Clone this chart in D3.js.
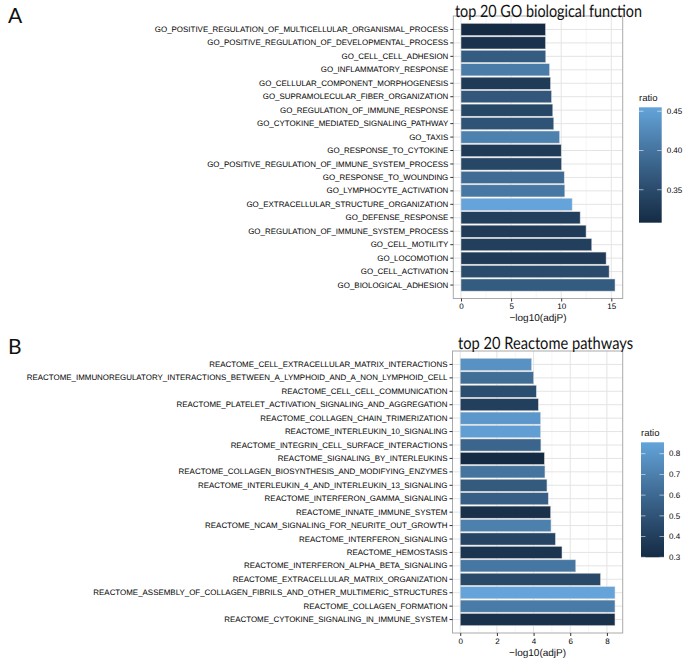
<!DOCTYPE html>
<html><head><meta charset="utf-8">
<script src="https://cdn.jsdelivr.net/npm/d3@7"></script>
<style>body{margin:0;background:#fff}svg{display:block}text{text-rendering:geometricPrecision}</style>
</head><body>
<script>
const goTerms = ["GO_POSITIVE_REGULATION_OF_MULTICELLULAR_ORGANISMAL_PROCESS","GO_POSITIVE_REGULATION_OF_DEVELOPMENTAL_PROCESS","GO_CELL_CELL_ADHESION","GO_INFLAMMATORY_RESPONSE","GO_CELLULAR_COMPONENT_MORPHOGENESIS","GO_SUPRAMOLECULAR_FIBER_ORGANIZATION","GO_REGULATION_OF_IMMUNE_RESPONSE","GO_CYTOKINE_MEDIATED_SIGNALING_PATHWAY","GO_TAXIS","GO_RESPONSE_TO_CYTOKINE","GO_POSITIVE_REGULATION_OF_IMMUNE_SYSTEM_PROCESS","GO_RESPONSE_TO_WOUNDING","GO_LYMPHOCYTE_ACTIVATION","GO_EXTRACELLULAR_STRUCTURE_ORGANIZATION","GO_DEFENSE_RESPONSE","GO_REGULATION_OF_IMMUNE_SYSTEM_PROCESS","GO_CELL_MOTILITY","GO_LOCOMOTION","GO_CELL_ACTIVATION","GO_BIOLOGICAL_ADHESION"];
const goValues = [8.43,8.43,8.46,8.83,8.93,9.03,9.16,9.26,9.83,10.0,10.03,10.3,10.36,11.09,11.89,12.48,13.05,14.48,14.78,15.37];
const goRatios = [0.308,0.318,0.37,0.41,0.33,0.365,0.345,0.36,0.415,0.33,0.345,0.39,0.405,0.455,0.335,0.33,0.335,0.33,0.35,0.37];
const goTicks = [0,5,10,15];
const goLegendTicks = [0.35,0.40,0.45];

const reTerms = ["REACTOME_CELL_EXTRACELLULAR_MATRIX_INTERACTIONS","REACTOME_IMMUNOREGULATORY_INTERACTIONS_BETWEEN_A_LYMPHOID_AND_A_NON_LYMPHOID_CELL","REACTOME_CELL_CELL_COMMUNICATION","REACTOME_PLATELET_ACTIVATION_SIGNALING_AND_AGGREGATION","REACTOME_COLLAGEN_CHAIN_TRIMERIZATION","REACTOME_INTERLEUKIN_10_SIGNALING","REACTOME_INTEGRIN_CELL_SURFACE_INTERACTIONS","REACTOME_SIGNALING_BY_INTERLEUKINS","REACTOME_COLLAGEN_BIOSYNTHESIS_AND_MODIFYING_ENZYMES","REACTOME_INTERLEUKIN_4_AND_INTERLEUKIN_13_SIGNALING","REACTOME_INTERFERON_GAMMA_SIGNALING","REACTOME_INNATE_IMMUNE_SYSTEM","REACTOME_NCAM_SIGNALING_FOR_NEURITE_OUT_GROWTH","REACTOME_INTERFERON_SIGNALING","REACTOME_HEMOSTASIS","REACTOME_INTERFERON_ALPHA_BETA_SIGNALING","REACTOME_EXTRACELLULAR_MATRIX_ORGANIZATION","REACTOME_ASSEMBLY_OF_COLLAGEN_FIBRILS_AND_OTHER_MULTIMERIC_STRUCTURES","REACTOME_COLLAGEN_FORMATION","REACTOME_CYTOKINE_SIGNALING_IN_IMMUNE_SYSTEM"];
const reValues = [3.89,4.0,4.15,4.26,4.38,4.38,4.40,4.59,4.62,4.73,4.80,4.93,4.95,5.19,5.55,6.30,7.65,8.44,8.44,8.44];
const reRatios = [0.78,0.62,0.47,0.40,0.80,0.83,0.58,0.30,0.65,0.53,0.55,0.33,0.70,0.43,0.35,0.66,0.45,0.855,0.68,0.33];
const reTicks = [0,2,4,6,8];
const reLegendTicks = [0.3,0.4,0.5,0.6,0.7,0.8];

const W = 685, H = 658;
const svg = d3.select("body").append("svg").attr("width", W).attr("height", H);
const lowC = "#152B44", highC = "#64A4DA";
const labelFont = "Liberation Sans, Arial, sans-serif";

function panel(cfg) {
  const g = svg.append("g");
  const xMax = d3.max(cfg.values);
  const pad = xMax * 0.05;
  const x = d3.scaleLinear().domain([-pad, xMax + pad]).range([cfg.left, cfg.right]);
  const y = d3.scaleBand().domain(cfg.terms).range([cfg.top, cfg.bottom]).paddingInner(0.1).paddingOuter(0.55);
  const rExt = d3.extent(cfg.ratios);
  const color = d3.scaleLinear().domain(rExt).range([lowC, highC]).interpolate(d3.interpolateLab);

  g.append("rect").attr("x", cfg.left).attr("y", cfg.top).attr("width", cfg.right - cfg.left).attr("height", cfg.bottom - cfg.top).attr("fill", "#fff");
  const minor = [];
  for (let i = 0; i < cfg.ticks.length - 1; i++) minor.push((cfg.ticks[i] + cfg.ticks[i+1]) / 2);
  const step = cfg.ticks[1] - cfg.ticks[0];
  const lastMinor = cfg.ticks[cfg.ticks.length-1] + step/2;
  if (lastMinor < xMax + pad) minor.push(lastMinor);
  g.selectAll(".mn").data(minor).enter().append("line")
    .attr("x1", d => x(d)).attr("x2", d => x(d)).attr("y1", cfg.top).attr("y2", cfg.bottom)
    .attr("stroke", "#f0f0f0").attr("stroke-width", 0.6);
  g.selectAll(".mj").data(cfg.ticks).enter().append("line")
    .attr("x1", d => x(d)).attr("x2", d => x(d)).attr("y1", cfg.top).attr("y2", cfg.bottom)
    .attr("stroke", "#e4e4e4").attr("stroke-width", 1);
  g.selectAll(".hj").data(cfg.terms).enter().append("line")
    .attr("x1", cfg.left).attr("x2", cfg.right).attr("y1", d => y(d) + y.bandwidth()/2).attr("y2", d => y(d) + y.bandwidth()/2)
    .attr("stroke", "#e4e4e4").attr("stroke-width", 1);

  g.selectAll(".bar").data(cfg.terms).enter().append("rect")
    .attr("x", x(0)).attr("y", d => y(d))
    .attr("width", (d, i) => x(cfg.values[i]) - x(0))
    .attr("height", y.bandwidth())
    .attr("fill", (d, i) => color(cfg.ratios[i]))
    .attr("stroke", "#d8d8d8").attr("stroke-width", 0.5);

  g.append("rect").attr("x", cfg.left).attr("y", cfg.top).attr("width", cfg.right - cfg.left).attr("height", cfg.bottom - cfg.top)
    .attr("fill", "none").attr("stroke", "#aaaaaa").attr("stroke-width", 1);

  const ya = g.append("g").attr("transform", `translate(${cfg.left},0)`)
    .call(d3.axisLeft(y).tickSize(3).tickPadding(2));
  ya.select(".domain").remove();
  ya.selectAll("line").attr("stroke", "#333");
  ya.selectAll("text").attr("font-family", labelFont).attr("font-size", 7.95).attr("fill", "#000");

  const xa = g.append("g").attr("transform", `translate(0,${cfg.bottom})`)
    .call(d3.axisBottom(x).tickValues(cfg.ticks).tickSize(3).tickPadding(2).tickFormat(d3.format("d")));
  xa.select(".domain").remove();
  xa.selectAll("line").attr("stroke", "#333");
  xa.selectAll("text").attr("font-family", labelFont).attr("font-size", 8).attr("fill", "#000");

  g.append("text").attr("x", (cfg.left + cfg.right)/2).attr("y", cfg.bottom + cfg.xlabOff)
    .attr("text-anchor", "middle").attr("font-family", labelFont).attr("font-size", 10).attr("fill", "#111")
    .text("\u2212log10(adjP)");

  g.append("text").attr("x", cfg.titleX).attr("y", cfg.titleY).attr("font-family", "Lato, Open Sans, sans-serif")
    .attr("font-size", 17).attr("fill", "#111")
    .attr("textLength", cfg.titleW).attr("lengthAdjust", "spacingAndGlyphs").text(cfg.title);
  g.append("text").attr("x", 8).attr("y", cfg.letterY).attr("font-family", "Lato, Open Sans, sans-serif")
    .attr("font-size", 21).attr("fill", "#111").text(cfg.letter);

  const lg = svg.append("g");
  const ls = d3.scaleLinear().domain(rExt).range([cfg.lgBottom, cfg.lgTop]);
  const gid = "grad" + cfg.letter;
  const grad = svg.append("defs").append("linearGradient").attr("id", gid).attr("x1", 0).attr("x2", 0).attr("y1", 1).attr("y2", 0);
  d3.range(0, 1.0001, 0.1).forEach(t => grad.append("stop").attr("offset", t).attr("stop-color", color(rExt[0] + t*(rExt[1]-rExt[0]))));
  lg.append("rect").attr("x", cfg.lgX).attr("y", cfg.lgTop).attr("width", cfg.lgW).attr("height", cfg.lgBottom - cfg.lgTop).attr("fill", `url(#${gid})`);
  cfg.lgTicks.forEach(t => {
    lg.append("line").attr("x1", cfg.lgX).attr("x2", cfg.lgX + 4.5).attr("y1", ls(t)).attr("y2", ls(t)).attr("stroke", "#fff").attr("stroke-width", 0.8).attr("opacity", 0.7);
    lg.append("line").attr("x1", cfg.lgX + cfg.lgW - 4.5).attr("x2", cfg.lgX + cfg.lgW).attr("y1", ls(t)).attr("y2", ls(t)).attr("stroke", "#fff").attr("stroke-width", 0.8).attr("opacity", 0.7);
  });
  lg.selectAll(".lt").data(cfg.lgTicks).enter().append("text")
    .attr("x", cfg.lgX + cfg.lgW + 5).attr("y", d => ls(d)).attr("dy", "0.35em")
    .attr("font-family", labelFont).attr("font-size", 8).attr("fill", "#000")
    .text(d => cfg.lgFmt(d));
  lg.append("text").attr("x", cfg.lgX).attr("y", cfg.lgTop - 6).attr("font-family", labelFont)
    .attr("font-size", 9.5).attr("fill", "#111").text("ratio");
}

panel({terms: goTerms, values: goValues, ratios: goRatios, ticks: goTicks,
  left: 453.3, right: 622.7, top: 16, bottom: 298.5, xlabOff: 22,
  title: "top 20 GO biological function", titleX: 455, titleY: 16.5, titleW: 187, letter: "A", letterY: 23,
  lgX: 639, lgW: 22.7, lgTop: 107.3, lgBottom: 222.7, lgTicks: goLegendTicks, lgFmt: d3.format(".2f")});

panel({terms: reTerms, values: reValues, ratios: reRatios, ticks: reTicks,
  left: 452.5, right: 622.7, top: 351, bottom: 633, xlabOff: 23,
  title: "top 20 Reactome pathways", titleX: 458, titleY: 348.5, titleW: 175, letter: "B", letterY: 354,
  lgX: 641, lgW: 23, lgTop: 442.3, lgBottom: 557.3, lgTicks: reLegendTicks, lgFmt: d3.format(".1f")});
</script>
</body></html>
